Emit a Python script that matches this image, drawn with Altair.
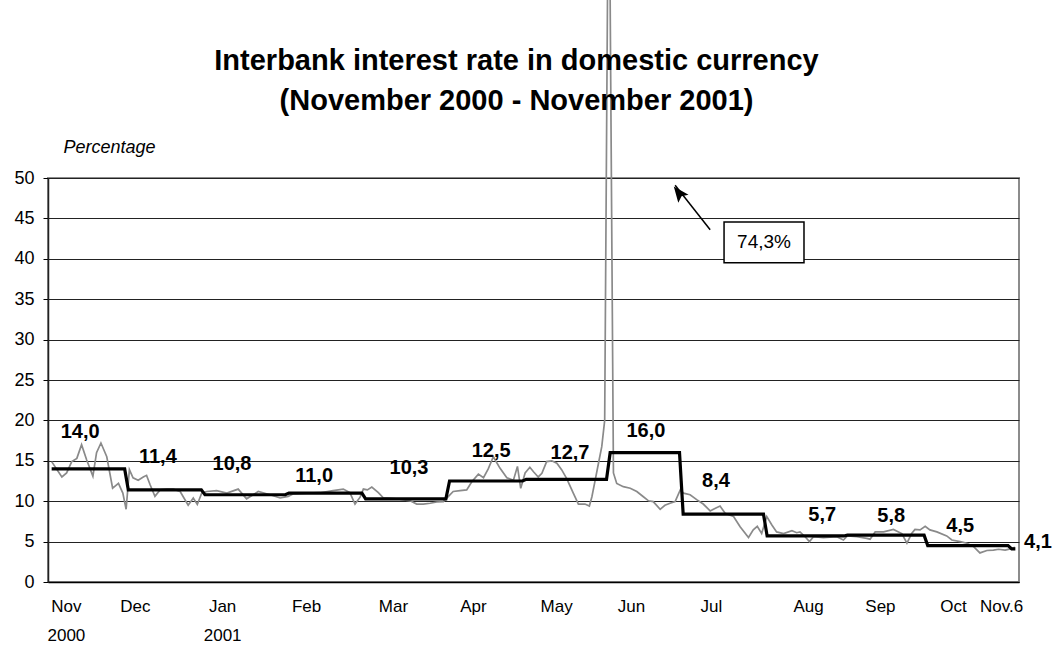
import altair as alt
import pandas as pd

# ---- daily interbank rate (business-day index, percent) ----
gray_day = [0, 2.8, 4.1, 5.5, 6.9, 8.2, 9.6, 11.3, 12.3, 13.5, 15.1, 16.7, 18.3, 19.5, 20.4,
            21.3, 22.3, 23.7, 25.1, 26.0, 27.0, 28.3, 29.7, 31.5, 33.3, 35.2, 37.4, 38.8, 39.9,
            41.1, 42.5, 45.2, 48.0, 51.1, 53.4, 56.6, 59.8, 62.6, 64.8, 66.1, 69.9, 73.5, 77.1,
            79.9, 81.7, 83.1, 84.5, 85.4, 86.5, 87.7, 89.5, 90.9, 94.5, 98.2, 100.0, 101.8,
            103.7, 105.5, 107.3, 108.7, 110.0, 111.9, 113.7, 115.1, 116.9, 118.3, 119.6, 121.0,
            122.8, 124.7, 126.5, 127.6, 128.5, 129.7, 131.0, 132.0, 133.3, 134.3, 135.6, 137.0,
            138.4, 139.7, 141.1, 142.9, 144.3, 146.1, 147.3, 148.0, 148.9, 149.8, 150.7, 151.5,
            152.3, 153.0, 153.9, 154.8, 156.6, 158.5, 160.3, 162.1, 163.5, 164.8, 166.7, 168.0,
            169.4, 170.8, 172.2, 173.1, 174.9, 176.7, 178.5, 180.4, 181.7, 183.1, 184.5, 186.8,
            188.6, 190.9, 192.2, 193.3, 194.5, 195.9, 197.3, 198.6, 200.5, 202.8, 204.1, 205.0,
            206.4, 207.6, 208.7, 211.4, 215.1, 216.9, 218.0, 220.6, 223.3, 224.2, 225.6, 227.9,
            230.6, 232.0, 232.9, 234.3, 235.6, 236.5, 237.9, 239.3, 240.6, 242.5, 245.2, 246.6,
            248.9, 250.7, 252.5, 254.3, 256.2, 258.0, 259.4, 261.2, 262.6, 263.9]
gray_rate = [14.9, 13.0, 13.5, 14.9, 15.3, 17.0, 15.1, 13.1, 16.0, 17.2, 15.5, 11.6, 12.2, 11.0, 9.0,
             13.9, 12.9, 12.6, 13.0, 13.2, 12.0, 10.6, 11.4, 11.5, 11.5, 11.2, 9.5, 10.4, 9.6,
             11.0, 11.2, 11.3, 11.0, 11.5, 10.3, 11.2, 10.8, 10.4, 10.6, 10.9, 11.0, 11.05, 11.3,
             11.5, 11.05, 9.65, 10.5, 11.5, 11.4, 11.75, 11.05, 10.4, 10.3, 10.05, 9.65, 9.65,
             9.75, 9.9, 9.95, 10.6, 11.2, 11.3, 11.4, 12.4, 13.35, 12.9, 14.0, 15.5,
             14.1, 12.9, 12.6, 14.3, 11.6, 13.5, 14.2, 13.65, 13.0, 13.45, 14.9, 15.0,
             14.7, 13.9, 12.8, 11.0, 9.65, 9.65, 9.4, 10.55, 12.6, 14.7, 16.75, 20.0,
             74.3, 72.0, 13.5, 12.2, 11.8, 11.6, 11.2, 10.55, 10.05, 9.95, 9.0, 9.5,
             9.75, 9.95, 11.4, 11.0, 10.8, 10.2, 9.65, 8.8, 9.1, 9.4, 8.5, 8.1,
             6.85, 5.5, 6.45, 6.9, 6.0, 8.1, 7.05, 6.2, 6.0, 6.35, 6.1, 6.2,
             5.6, 5.0, 5.6, 5.5, 5.6, 5.2, 5.7, 5.6, 5.4, 5.3, 6.2, 6.2,
             6.5, 6.2, 6.0, 4.8, 6.0, 6.5, 6.45, 6.9, 6.45, 6.2, 5.7, 5.2,
             5.0, 4.8, 4.4, 3.6, 3.9, 3.95, 4.05, 3.95, 4.1, 4.3]

# ---- monthly averages (black step line) ----
month_first_day = [0, 21, 42, 65, 86, 109, 130, 153, 173, 196, 218, 240, 263]
month_last_day = [20, 41, 64, 85, 108, 129, 152, 172, 195, 217, 239, 262, 264]
month_avg = [14.0, 11.4, 10.8, 11.0, 10.3, 12.5, 12.7, 16.0, 8.4, 5.7, 5.8, 4.5, 4.1]

# label anchors (day index, percent level)
label_day = [7.8, 29.1, 49.4, 71.9, 97.9, 120.4, 142.0, 162.8, 182.0, 211.1, 230.0, 248.9, 270.2]
label_level = [18.6, 15.5, 14.6, 13.1, 14.1, 16.2, 16.0, 18.7, 12.5, 8.3, 8.2, 6.9, 4.95]

# x-axis category labels
tick_day = [3.9, 22.8, 46.7, 69.7, 93.5, 115.4, 138.2, 158.7, 180.6, 207.2, 226.9, 246.9, 260.1]
tick_text = ["Nov|2000", "Dec", "Jan|2001", "Feb", "Mar", "Apr", "May", "Jun", "Jul", "Aug",
             "Sep", "Oct", "Nov.6"]

# peak annotation
peak_text = "74,3%"
arrow_day = [180.4, 170.8]
arrow_level = [43.6, 49.1]
box_day = [184.2, 206.1]
box_level = [39.5, 44.55]

FONT = "Liberation Sans"

daily = pd.DataFrame({"day": gray_day, "rate": gray_rate})
steps = pd.DataFrame({
    "day": [d for a, b in zip(month_first_day, month_last_day) for d in (a, b)],
    "rate": [v for v in month_avg for _ in (0, 1)],
})
labels = pd.DataFrame({
    "day": label_day, "level": label_level,
    "txt": [f"{v:.1f}".replace(".", ",") for v in month_avg],
})

pos_js = "[" + ",".join(str(v) for v in tick_day) + "]"
lab_js = "[" + ",".join(f"'{t}'" for t in tick_text) + "]"

x_scale = alt.Scale(domain=[-1, 265], nice=False, zero=False)
y_scale = alt.Scale(domain=[0, 50], nice=False)

x_axis = alt.Axis(values=tick_day, labelExpr=f"split({lab_js}[indexof({pos_js}, datum.value)], '|')",
                  ticks=False, grid=False, domainColor="black", domainWidth=1.5,
                  labelFont=FONT, labelFontSize=17, labelColor="black", labelPadding=16,
                  labelLineHeight=29, labelFlush=False, labelOverlap=False, title=None)
y_axis = alt.Axis(values=list(range(0, 51, 5)), grid=True, gridColor="#222222", gridWidth=1,
                  tickSize=5, tickColor="black", domainColor="#222222", domainWidth=1.5,
                  labelFont=FONT, labelFontSize=18, labelColor="black", labelPadding=9,
                  title="Percentage", titleAngle=0, titleAlign="left", titleBaseline="middle",
                  titleX=15, titleY=-31, titleFont=FONT, titleFontSize=18, titleFontStyle="italic",
                  titleFontWeight="normal", titleColor="black")

gray = alt.Chart(daily).mark_line(color="#8a8a8a", strokeWidth=1.7).encode(
    x=alt.X("day:Q", scale=x_scale, axis=x_axis),
    y=alt.Y("rate:Q", scale=y_scale, axis=y_axis),
)
black = alt.Chart(steps).mark_line(color="black", strokeWidth=3.2).encode(
    x=alt.X("day:Q", scale=x_scale), y=alt.Y("rate:Q", scale=y_scale))
txt = alt.Chart(labels).mark_text(font=FONT, fontSize=20, fontWeight="bold", color="black",
                                   align="center", baseline="middle").encode(
    x=alt.X("day:Q", scale=x_scale), y=alt.Y("level:Q", scale=y_scale), text="txt:N")

arrow_df = pd.DataFrame({"d1": [arrow_day[0]], "l1": [arrow_level[0]],
                         "d2": [arrow_day[1]], "l2": [arrow_level[1]]})
arrow = alt.Chart(arrow_df).mark_rule(color="black", strokeWidth=1.5).encode(
    x=alt.X("d1:Q", scale=x_scale), y=alt.Y("l1:Q", scale=y_scale), x2="d2:Q", y2="l2:Q")
head_df = pd.DataFrame({"day": [arrow_day[1]], "level": [arrow_level[1]]})
head = alt.Chart(head_df).mark_point(shape="M0,-1L0.75,0.8L0,0.45L-0.75,0.8Z", size=300, filled=True,
                                     color="black", opacity=1, angle=322, yOffset=8, xOffset=4).encode(
    x=alt.X("day:Q", scale=x_scale), y=alt.Y("level:Q", scale=y_scale))
box_df = pd.DataFrame({"d1": [box_day[0]], "d2": [box_day[1]], "l1": [box_level[0]],
                       "l2": [box_level[1]], "t": [peak_text]})
box = alt.Chart(box_df).mark_rect(fill="white", stroke="black", strokeWidth=1.5).encode(
    x=alt.X("d1:Q", scale=x_scale), x2="d2:Q", y=alt.Y("l1:Q", scale=y_scale), y2="l2:Q")
box_txt = alt.Chart(box_df).mark_text(font=FONT, fontSize=19, color="black", align="center",
                                      baseline="middle").encode(
    x=alt.X("mid:Q", scale=x_scale), y=alt.Y("mid_l:Q", scale=y_scale), text="t:N"
).transform_calculate(mid="(datum.d1 + datum.d2) / 2", mid_l="(datum.l1 + datum.l2) / 2")

chart = alt.layer(gray, black, txt, arrow, head, box, box_txt).properties(
    width=971, height=404,
    autosize=alt.AutoSizeParams(type="none"),
    padding={"left": 48, "top": 178, "right": 33, "bottom": 68},
    background="white",
    title=alt.TitleParams(text=["Interbank interest rate in domestic currency",
                                "(November 2000 - November 2001)"],
                          font=FONT, fontSize=29, fontWeight="bold", color="black",
                          anchor="middle", dx=-17, lineHeight=40, offset=-138),
).configure_view(stroke="#8c8c8c", strokeWidth=2)

chart.save("out.html", embed_options={"renderer": "svg", "actions": False})
